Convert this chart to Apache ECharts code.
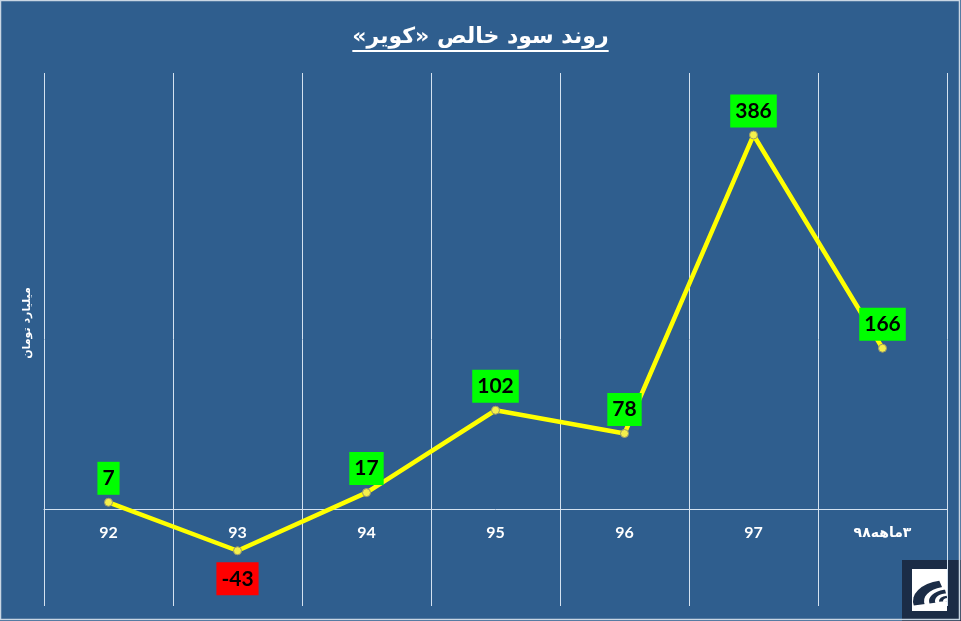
<!DOCTYPE html>
<html>
<head>
<meta charset="utf-8">
<script src="https://cdn.jsdelivr.net/npm/echarts@6/dist/echarts.min.js"></script>
<style>
  html, body { margin: 0; padding: 0; background: #2f5e8e; }
  #main { width: 961px; height: 621px; }
</style>
</head>
<body>
<div id="main"></div>
<script>
// داده‌ها
var categories = ['92', '93', '94', '95', '96', '97', '\u200F۳ماهه۹۸'];
var profit = [7, -43, 17, 102, 78, 386, 166];
var titleText = '\u200Fروند سود خالص «کویر»\u200F';
var unitText = '\u200Fمیلیارد تومان';

var chart = echarts.init(document.getElementById('main'));

// عرض عنوان برای خط زیر آن
var titleFont = 'bold 22px "DejaVu Sans"';
var ctx = document.createElement('canvas').getContext('2d');
ctx.font = titleFont;
var titleW = ctx.measureText(titleText).width;

var seriesData = profit.map(function (v) {
    if (v < 0) {
        return {
            value: v,
            label: { position: 'bottom', distance: 7, backgroundColor: '#ff0000' }
        };
    }
    return v;
});

// محور صفر: پایین نمودار 606، صفر در 509
var gridTop = 73, gridBottom = 15, yMin = -100, yMax = 450;
var plotH = 621 - gridTop - gridBottom;
var zeroOffset = -Math.round(plotH * (0 - yMin) / (yMax - yMin));

var dark = '#1b2c46';
function logoArc(r, a0, a1, fill) {
    return {
        type: 'sector',
        shape: { cx: 0, cy: 0, r0: 0, r: r, startAngle: Math.PI * a0, endAngle: Math.PI * a1 },
        style: { fill: fill }
    };
}

var option = {
    backgroundColor: '#2f5e8e',
    animation: false,
    grid: { left: 44, right: 14, top: gridTop, bottom: gridBottom, containLabel: false, outerBoundsMode: 'none' },
    xAxis: {
        type: 'category',
        data: categories,
        boundaryGap: true,
        offset: zeroOffset,
        axisLine: { onZero: false, lineStyle: { color: '#d4e2f0', width: 1 } },
        axisTick: { show: false },
        axisLabel: {
            color: '#ffffff', fontWeight: 'bold', fontSize: 16,
            fontFamily: 'Lato, "DejaVu Sans"', margin: 16,
            formatter: function (v, i) {
                return i === categories.length - 1 ? '{s|' + v + '}' : v;
            },
            rich: {
                s: { color: '#ffffff', fontWeight: 'bold', fontSize: 14, fontFamily: 'Lato, "DejaVu Sans"' }
            }
        },
        splitLine: { show: true, interval: 0, lineStyle: { color: '#d4e2f0', width: 1 } }
    },
    yAxis: {
        type: 'value',
        min: yMin,
        max: yMax,
        show: false
    },
    series: [{
        type: 'line',
        data: seriesData,
        symbol: 'circle',
        symbolSize: 8,
        lineStyle: { color: '#ffff00', width: 4.5 },
        itemStyle: { color: '#f4f04c', borderColor: '#9a9a6a', borderWidth: 1 },
        label: {
            show: true,
            position: 'top',
            distance: 3,
            color: '#000000',
            fontWeight: 'bold',
            fontSize: 21,
            fontFamily: 'Lato',
            backgroundColor: '#00ff00',
            padding: [6, 5, 6, 5]
        }
    }],
    graphic: [
        {
            type: 'text', left: 'center', top: 26,
            style: { text: titleText, font: titleFont, fill: '#ffffff' }
        },
        {
            type: 'line',
            shape: { x1: 480.5 - titleW / 2, y1: 51, x2: 480.5 + titleW / 2, y2: 51 },
            style: { stroke: '#ffffff', lineWidth: 2 }
        },
        {
            type: 'text', x: 27, y: 323, rotation: Math.PI / 2,
            style: {
                text: unitText, font: 'bold 11px "DejaVu Sans"', fill: '#ffffff',
                align: 'center', verticalAlign: 'middle'
            }
        },
        // لوگو
        { type: 'rect', shape: { x: 902, y: 560, width: 59, height: 61 }, style: { fill: dark } },
        { type: 'rect', shape: { x: 912, y: 569, width: 35, height: 42 }, style: { fill: '#ffffff' } },
        {
            type: 'group', x: 948, y: 601, scaleY: 0.6,
            children: [
                logoArc(35, 0.93, 1.42, dark),
                logoArc(24, 0.85, 1.5, '#ffffff'),
                logoArc(19, 0.93, 1.45, dark),
                logoArc(13, 0.85, 1.5, '#ffffff'),
                logoArc(9, 0.95, 1.45, dark),
                logoArc(5, 0.85, 1.5, '#ffffff')
            ]
        },
        // قاب بیرونی
        {
            type: 'rect', shape: { x: 0.5, y: 0.5, width: 959, height: 619 },
            style: { fill: null, stroke: '#c9d6e3', lineWidth: 1.5 }, z: 100
        }
    ]
};

chart.setOption(option);
</script>
</body>
</html>
